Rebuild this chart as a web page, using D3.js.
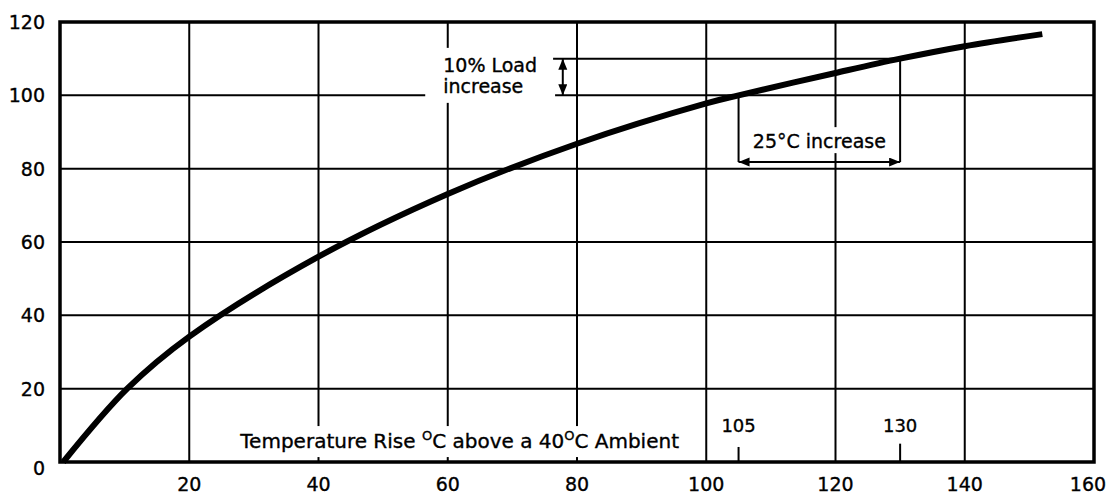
<!DOCTYPE html>
<html lang="en">
<head>
<meta charset="UTF-8">
<script src="https://d3js.org/d3.v7.min.js"></script>
<style>
    body { margin: 0; background: #fff; }
    text { font-family: "DejaVu Sans", sans-serif; fill: #000; stroke: #000; stroke-width: 0.35px; }
</style>
<title>Load vs temperature rise</title>
</head>
<body>
<svg id="chart"></svg>
<script>
    // curve: temperature rise (deg C) -> load (%)
    const tempRise = [0.5, 10.4, 20, 40, 60, 80, 100, 105, 120, 130, 140, 152];
    const load     = [0,   20,   34.2, 56, 73.1, 86.8, 97.8, 100, 106.1, 110, 113.4, 116.7];

    const xTicks = [20, 40, 60, 80, 100, 120, 140, 160];
    const yTicks = [0, 20, 40, 60, 80, 100, 120];
    const markTemps = [105, 130];       // 25 deg C increase
    const loadStep = [100, 110];        // 10% load increase

    const width = 1113, height = 494;
    const margin = {top: 22, right: 19, bottom: 32, left: 60};

    const svg = d3.select("#chart")
        .attr("width", width)
        .attr("height", height);

    const x = d3.scaleLinear().domain([0, 160]).range([margin.left, width - margin.right]);
    const y = d3.scaleLinear().domain([0, 120]).range([height - margin.bottom, margin.top]);

    // layers
    const gGrid = svg.append("g");
    const gMask = svg.append("g");
    const gCurve = svg.append("g");
    const gFrame = svg.append("g");
    const gAnno = svg.append("g");
    const gText = svg.append("g");

    const defs = svg.append("defs");
    defs.append("marker")
        .attr("id", "arrow")
        .attr("markerUnits", "userSpaceOnUse")
        .attr("markerWidth", 12).attr("markerHeight", 10)
        .attr("refX", 11).attr("refY", 4.5)
        .attr("orient", "auto-start-reverse")
        .append("path")
        .attr("d", "M0,0 L11,4.5 L0,9 Z")
        .attr("fill", "#000");

    // grid
    gGrid.selectAll(".vgrid")
        .data(xTicks.filter(d => d < 160))
        .enter().append("line")
        .attr("x1", d => x(d)).attr("x2", d => x(d))
        .attr("y1", y(0)).attr("y2", y(120))
        .attr("stroke", "#000").attr("stroke-width", 2);

    gGrid.selectAll(".hgrid")
        .data(yTicks.filter(d => d > 0 && d < 120))
        .enter().append("line")
        .attr("x1", x(0)).attr("x2", x(160))
        .attr("y1", d => y(d)).attr("y2", d => y(d))
        .attr("stroke", "#000").attr("stroke-width", 2);

    // frame
    gFrame.append("rect")
        .attr("x", x(0)).attr("y", y(120))
        .attr("width", x(160) - x(0)).attr("height", y(0) - y(120))
        .attr("fill", "none").attr("stroke", "#000").attr("stroke-width", 3.5);

    // curve
    const pts = tempRise.map((t, i) => [t, load[i]]);
    const line = d3.line()
        .x(d => x(d[0])).y(d => y(d[1]))
        .curve(d3.curveCatmullRom.alpha(0.5));
    gCurve.append("path")
        .attr("d", line(pts))
        .attr("fill", "none")
        .attr("stroke", "#000")
        .attr("stroke-width", 6)
        .attr("stroke-linecap", "butt");

    // tick labels
    gText.selectAll(".ylab")
        .data(yTicks)
        .enter().append("text")
        .attr("x", 45)
        .attr("y", d => y(d) + (d === 0 ? 6 : 0))
        .attr("dy", "0.36em")
        .attr("text-anchor", "end")
        .style("font-size", "19px")
        .text(d => d);

    gText.selectAll(".xlab")
        .data(xTicks)
        .enter().append("text")
        .attr("x", d => x(d) - (d === 160 ? 6 : 0))
        .attr("y", height - 3)
        .attr("text-anchor", "middle")
        .style("font-size", "19px")
        .text(d => d);

    // axis title inside the plot
    const title = gText.append("text")
        .attr("x", x(27.9)).attr("y", y(3.8))
        .style("font-size", "20px");
    title.append("tspan").text("Temperature Rise ");
    title.append("tspan").attr("dy", -8).style("font-size", "13px").text("O");
    title.append("tspan").attr("dy", 8).text("C above a 40");
    title.append("tspan").attr("dy", -8).style("font-size", "13px").text("O");
    title.append("tspan").attr("dy", 8).text("C Ambient");

    // 105 / 130 marks on the bottom
    gText.selectAll(".mark")
        .data(markTemps)
        .enter().append("text")
        .attr("x", d => x(d))
        .attr("y", y(8.2))
        .attr("text-anchor", "middle")
        .style("font-size", "18px")
        .text(d => d);
    gAnno.selectAll(".marktick")
        .data(markTemps)
        .enter().append("line")
        .attr("x1", d => x(d)).attr("x2", d => x(d))
        .attr("y1", y(0)).attr("y2", d => y(d === 105 ? 4.1 : 5))
        .attr("stroke", "#000").attr("stroke-width", 2);

    // 10% load increase
    const loadText = gText.append("text")
        .attr("x", x(59.3)).attr("y", y(106.4))
        .style("font-size", "19px");
    loadText.append("tspan").text("10% Load");
    loadText.append("tspan").attr("x", x(59.3)).attr("dy", 21).text("increase");

    gAnno.append("line")
        .attr("x1", x(76.3)).attr("x2", x(markTemps[1]))
        .attr("y1", y(loadStep[1])).attr("y2", y(loadStep[1]))
        .attr("stroke", "#000").attr("stroke-width", 2);
    gAnno.append("line")
        .attr("x1", x(77.8)).attr("x2", x(77.8))
        .attr("y1", y(loadStep[0])).attr("y2", y(loadStep[1]))
        .attr("stroke", "#000").attr("stroke-width", 2)
        .attr("marker-start", "url(#arrow)")
        .attr("marker-end", "url(#arrow)");

    // 25 deg C increase
    const arrowY = 81.8;
    gAnno.append("line")
        .attr("x1", x(markTemps[0])).attr("x2", x(markTemps[0]))
        .attr("y1", y(loadStep[0])).attr("y2", y(arrowY))
        .attr("stroke", "#000").attr("stroke-width", 2);
    gAnno.append("line")
        .attr("x1", x(markTemps[1])).attr("x2", x(markTemps[1]))
        .attr("y1", y(loadStep[1])).attr("y2", y(arrowY))
        .attr("stroke", "#000").attr("stroke-width", 2);
    gAnno.append("line")
        .attr("x1", x(markTemps[0])).attr("x2", x(markTemps[1]))
        .attr("y1", y(arrowY)).attr("y2", y(arrowY))
        .attr("stroke", "#000").attr("stroke-width", 2)
        .attr("marker-start", "url(#arrow)")
        .attr("marker-end", "url(#arrow)");

    const degText = gText.append("text")
        .attr("x", x((markTemps[0] + markTemps[1]) / 2))
        .attr("y", y(85.6))
        .attr("text-anchor", "middle")
        .style("font-size", "19px")
        .text("25°C increase");

    // white gaps in the grid behind the texts
    function mask(node, px, top, bottom) {
        const b = node.node().getBBox();
        gMask.append("rect")
            .attr("x", b.x - px).attr("y", b.y - top)
            .attr("width", b.width + 2 * px).attr("height", b.height + top + bottom)
            .attr("fill", "#fff");
    }
    mask(title, 5, 2, 4);
    mask(loadText, 18, 6, 6);
    mask(degText, 4, 3, 1);
</script>
</body>
</html>
